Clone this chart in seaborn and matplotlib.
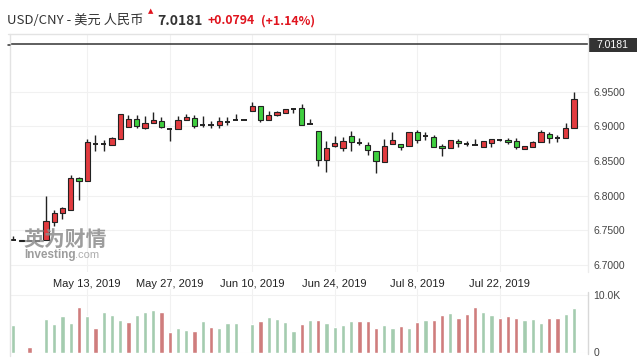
import numpy as np
import pandas as pd
import matplotlib
matplotlib.use("Agg")
import matplotlib.pyplot as plt
from matplotlib.lines import Line2D
from matplotlib.patches import Rectangle
import seaborn as sns

# ---- data ----
dates = pd.bdate_range("2019-04-30", "2019-08-02")

opens = [6.736, 6.737, 6.735, 6.735, 6.736, 6.762, 6.775, 6.780, 6.825, 6.822,
         6.875, 6.874, 6.8728, 6.8814, 6.8987, 6.9102, 6.8981, 6.9045, 6.9073, 6.8967,
         6.8967, 6.9088, 6.9117, 6.902, 6.902, 6.9016, 6.9068, 6.9092, 6.9092, 6.9226,
         6.929, 6.9097, 6.9169, 6.9189, 6.9246, 6.926, 6.903, 6.8934, 6.8516, 6.8718,
         6.8693, 6.8862, 6.8765, 6.8728, 6.865, 6.8483, 6.8742, 6.8746, 6.8722, 6.8919,
         6.8866, 6.8843, 6.8713, 6.8684, 6.879, 6.8751, 6.8736, 6.8699, 6.8756, 6.8804,
         6.8804, 6.8794, 6.867, 6.8699, 6.8775, 6.8891, 6.8837, 6.8828, 6.8973]
highs = [6.742, 6.737, 6.735, 6.735, 6.800, 6.7795, 6.784, 6.830, 6.827, 6.882,
         6.887, 6.880, 6.885, 6.9174, 6.9164, 6.9164, 6.915, 6.9207, 6.9131, 6.8967,
         6.915, 6.9179, 6.9164, 6.915, 6.9082, 6.9131, 6.9131, 6.9179, 6.9092, 6.9356,
         6.929, 6.9226, 6.9226, 6.9246, 6.9269, 6.9323, 6.910, 6.8934, 6.879, 6.8862,
         6.8843, 6.8934, 6.8828, 6.878, 6.865, 6.8814, 6.8919, 6.8746, 6.8915, 6.8948,
         6.8924, 6.8876, 6.8746, 6.88, 6.8818, 6.879, 6.8818, 6.879, 6.8814, 6.8818,
         6.8828, 6.8828, 6.8718, 6.8794, 6.8948, 6.8924, 6.8876, 6.9053, 6.950]
lows = [6.736, 6.735, 6.735, 6.735, 6.736, 6.756, 6.767, 6.780, 6.794, 6.822,
        6.864, 6.864, 6.8728, 6.8814, 6.8987, 6.8973, 6.8958, 6.9045, 6.8973, 6.8794,
        6.8967, 6.9088, 6.8973, 6.8991, 6.8973, 6.8973, 6.902, 6.9085, 6.9092, 6.9226,
        6.9068, 6.9097, 6.915, 6.9189, 6.9197, 6.9016, 6.903, 6.843, 6.8343, 6.8699,
        6.865, 6.865, 6.8732, 6.8588, 6.8333, 6.8483, 6.8742, 6.866, 6.8718, 6.8756,
        6.8804, 6.8707, 6.8573, 6.8684, 6.8699, 6.8718, 6.8736, 6.8699, 6.8707, 6.879,
        6.8746, 6.867, 6.867, 6.8699, 6.8775, 6.8756, 6.8771, 6.8828, 6.8973]
closes = [6.736, 6.735, 6.735, 6.735, 6.7635, 6.775, 6.782, 6.825, 6.822, 6.878,
          6.875, 6.874, 6.8828, 6.9174, 6.9102, 6.901, 6.9049, 6.9092, 6.8987, 6.8967,
          6.9088, 6.9135, 6.9001, 6.902, 6.902, 6.9078, 6.9068, 6.9092, 6.9092, 6.9294,
          6.9092, 6.9164, 6.9207, 6.9246, 6.9246, 6.9016, 6.903, 6.8516, 6.8684, 6.8756,
          6.8785, 6.878, 6.8765, 6.866, 6.8501, 6.8713, 6.8804, 6.8699, 6.8915, 6.8804,
          6.8866, 6.8707, 6.8684, 6.88, 6.8756, 6.8751, 6.8736, 6.879, 6.8814, 6.8804,
          6.8775, 6.8707, 6.8718, 6.8771, 6.8924, 6.8828, 6.8837, 6.8973, 6.9395]
volumes = [4780, 0, 960, 0, 5830, 4960, 6350, 5070, 7860, 6350,
           4200, 7040, 6520, 5710, 5250, 6520, 7100, 7390, 6990, 3510,
           4200, 3860, 3800, 5430, 4430, 4260, 5080, 5080, 0, 4960,
           5430, 6170, 5770, 5300, 3740, 4960, 5650, 5650, 5080, 4490,
           4780, 5480, 5480, 5480, 4210, 4780, 4310, 4610, 4310, 5250,
           5650, 5650, 6520, 6870, 5950, 6640, 7910, 7040, 6520, 5950,
           6350, 5950, 5650, 5770, 5080, 5950, 5950, 6700, 7740]
# u = volume bar green (close above previous close), d = red
vol_dir_codes = ("uuduuuuudu" "duuuduuudd" "uududuuuuu" "duuuududuu"
                 "uuddduudud" "udduddduud" "dduuudduu")
vol_dir = ["up" if c == "u" else "down" for c in vol_dir_codes]

last_price = 7.0181
change = 0.0794
change_pct = 1.14
tick_dates = ["2019-05-13", "2019-05-27", "2019-06-10", "2019-06-24", "2019-07-08", "2019-07-22"]
price_ticks = [6.70, 6.75, 6.80, 6.85, 6.90, 6.95]

df = pd.DataFrame({"date": dates, "open": opens, "high": highs, "low": lows,
                   "close": closes, "volume": volumes, "vdir": vol_dir})
df["i"] = np.arange(len(df))

# ---- figure ----
sns.set_style("white")
plt.rcParams["font.family"] = ["Liberation Sans", "DejaVu Sans"]
W, H = 639, 360
fig = plt.figure(figsize=(W / 100, H / 100), dpi=100)

def fx(px):
    return px / W

def fy(py):
    return 1 - py / H

ax = fig.add_axes([fx(10), fy(272), fx(578), 238 / H])
vax = fig.add_axes([fx(10), fy(352.5), fx(578), 63.5 / H], sharex=ax)

RED = "#e23b3f"
GREEN = "#3fcf3f"
EDGE = "#222222"

up = df["close"] > df["open"]
down = df["close"] < df["open"]
flat = df["close"] == df["open"]

ax.vlines(df["i"], df["low"], df["high"], color=EDGE, lw=1.0, zorder=2)
for mask, col in [(up, RED), (down, GREEN)]:
    d = df[mask]
    ax.bar(d["i"], (d["close"] - d["open"]).abs(), bottom=d[["open", "close"]].min(axis=1),
           width=0.62, color=col, edgecolor=EDGE, linewidth=0.8, zorder=3)
d = df[flat]
ax.hlines(d["close"], d["i"] - 0.31, d["i"] + 0.31, color=EDGE, lw=1.4, zorder=3)

ax.axhline(last_price, color="#333333", lw=1.1, zorder=4)

ax.set_xlim(-0.36, 69.7)
ax.set_ylim(6.6902, 7.0331)
ax.set_yticks(price_ticks)
ax.set_yticklabels([f"{v:.4f}" for v in price_ticks])
ax.yaxis.tick_right()
tick_pos = [int(np.where(df["date"] == pd.Timestamp(t))[0][0]) for t in tick_dates]
ax.set_xticks(tick_pos)
ax.set_xticklabels([f"{pd.Timestamp(t):%b} {pd.Timestamp(t).day}, {pd.Timestamp(t).year}"
                    for t in tick_dates])
ax.tick_params(axis="x", length=0, pad=5, labelsize=8, labelcolor="#222222")
ax.tick_params(axis="y", length=0, pad=4, labelsize=7.5, labelcolor="#444444")
ax.grid(True, color="#f1f1f1", lw=0.8)
ax.set_axisbelow(True)
for s in ax.spines.values():
    s.set_visible(False)

# volume
sns.barplot(data=df, x="i", y="volume", hue="vdir", palette={"up": "#9dd3ac", "down": "#dd6f6f"},
            native_scale=True, width=0.5, dodge=False, errorbar=None, legend=False, ax=vax,
            zorder=2)
vax.set_ylim(0, 11043)
vax.set_yticks([0, 10000])
vax.set_yticklabels(["0", "10.0K"])
vax.yaxis.tick_right()
vax.tick_params(axis="y", length=0, pad=4, labelsize=7.5, labelcolor="#444444")
vax.tick_params(axis="x", length=0, labelbottom=False)
vax.set_xlabel("")
vax.set_ylabel("")
vax.grid(True, color="#f1f1f1", lw=0.8)
vax.set_axisbelow(True)
for s in vax.spines.values():
    s.set_visible(False)
vax.set_xlim(-0.36, 69.7)

# frame lines
fig.add_artist(Line2D([fx(8), fx(588)], [fy(34), fy(34)], color="#e3e3e3", lw=1))
fig.add_artist(Line2D([fx(10), fx(10)], [fy(34), fy(356)], color="#e3e3e3", lw=1))
fig.add_artist(Line2D([fx(588), fx(588)], [fy(34), fy(272)], color="#ececec", lw=1))
fig.add_artist(Line2D([fx(588), fx(588)], [fy(292), fy(354)], color="#d8d8d8", lw=1))
fig.add_artist(Line2D([fx(8), fx(10)], [fy(45), fy(45)], color="#333333", lw=1.1))

# last price box
fig.add_artist(Rectangle((fx(588), fy(52)), fx(49), 14 / H, color="#333333", lw=0))
fig.text(fx(612.5), fy(45), f"{last_price:.4f}", color="white", fontsize=7.5,
         ha="center", va="center")

# header
cjk = ["Noto Sans CJK SC", "DejaVu Sans"]
fig.text(fx(7), fy(21), "USD/CNY - 美元 人民币", fontsize=9.5, color="#333333",
         va="center", family=cjk)
fig.text(fx(151), fy(11), "▲", fontsize=5, color="#e0141e", ha="center", va="center",
         family=["DejaVu Sans"])
fig.text(fx(157), fy(21), f"{last_price:.4f}", fontsize=10, color="#333333",
         fontweight="bold", va="center", family=cjk)
fig.text(fx(208), fy(21), f"+{change:.4f}", fontsize=8.8, color="#e0141e",
         fontweight="bold", va="center", family=cjk)
fig.text(fx(261), fy(21), f"(+{change_pct:.2f}%)", fontsize=8.8, color="#e0141e",
         fontweight="bold", va="center", family=cjk)

# watermark
fig.text(fx(23), fy(239), "英为财情", fontsize=15, color="#8c8c8c", alpha=0.85,
         fontweight="bold", va="center", family=cjk)
fig.text(fx(24), fy(255), "Investing", fontsize=8.5, color="#8c8c8c", alpha=0.85,
         fontweight="bold", va="center")
fig.text(fx(75), fy(255), ".com", fontsize=8, color="#a0a0a0", alpha=0.85, va="center")

fig.savefig("out.png", dpi=100)
